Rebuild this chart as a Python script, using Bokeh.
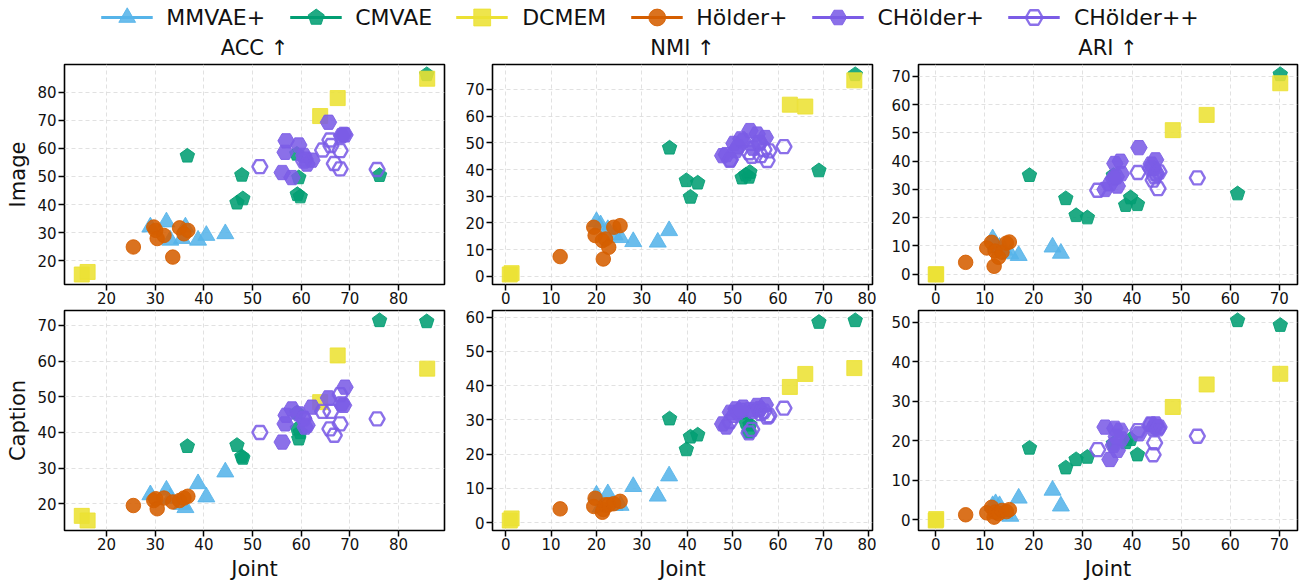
from bokeh.plotting import figure
from bokeh.layouts import column, row
from bokeh.models import Range1d, SingleIntervalTicker, Legend, LegendItem, ColumnDataSource
from bokeh.embed import file_html
from bokeh.resources import INLINE

# ---------------- data ----------------
models = ["MMVAE+", "CMVAE", "DCMEM", "Hölder+", "CHölder+", "CHölder++"]
metric_titles = ["ACC ↑", "NMI ↑", "ARI ↑"]
row_labels = ["Image", "Caption"]

# ACC
acc_mmvae_joint = [29.0, 32.3, 33.1, 35.5, 36.2, 38.8, 40.5, 44.4]
acc_mmvae_image = [32.0, 33.8, 27.3, 27.9, 32.0, 27.3, 29.0, 29.6]
acc_mmvae_caption = [22.5, 23.8, 21.5, 19.8, 18.9, 25.6, 21.9, 28.9]
acc_cmvae_joint = [36.6, 46.8, 47.8, 48.0, 59.1, 59.2, 59.5, 59.8, 76.1, 85.8]
acc_cmvae_image = [57.3, 40.6, 50.5, 42.1, 58.0, 43.6, 49.6, 42.8, 50.4, 86.3]
acc_cmvae_caption = [36.1, 36.4, 33.2, 32.8, 45.5, 41.0, 38.2, 40.0, 71.4, 71.1]
acc_dcmem_joint = [14.9, 16.1, 63.9, 67.5, 85.9]
acc_dcmem_image = [15.1, 16.0, 71.5, 77.9, 84.8]
acc_dcmem_caption = [16.6, 15.3, 48.5, 61.6, 57.9]
acc_holder_joint = [25.5, 29.7, 30.1, 30.4, 31.8, 33.6, 35.0, 35.9, 36.7]
acc_holder_image = [24.9, 32.0, 30.8, 27.9, 29.0, 21.3, 31.7, 29.6, 30.8]
acc_holder_caption = [19.5, 20.9, 21.4, 18.6, 21.6, 20.5, 20.9, 21.6, 22.1]
acc_chp_joint = [56.1, 56.7, 56.9, 58.1, 59.5, 60.5, 60.8, 61.2, 62.2, 65.6, 68.3, 68.7, 69.0]
acc_chp_image = [51.4, 58.6, 62.7, 49.6, 61.2, 57.5, 56.2, 54.4, 55.8, 69.3, 64.5, 65.0, 64.8]
acc_chp_caption = [37.3, 42.4, 44.8, 46.6, 45.2, 44.0, 41.5, 42.0, 47.1, 49.7, 48.0, 47.6, 52.7]
acc_chpp_joint = [51.5, 60.5, 64.4, 65.9, 66.1, 66.8, 68.0, 68.0, 75.6]
acc_chpp_image = [53.5, 55.5, 59.4, 63.0, 61.0, 54.6, 59.2, 52.7, 52.5]
acc_chpp_caption = [40.0, 43.8, 45.9, 41.0, 45.9, 39.2, 50.6, 42.4, 43.8]

# NMI
nmi_mmvae_joint = [20.0, 20.9, 22.5, 24.0, 25.3, 28.1, 33.5, 36.0]
nmi_mmvae_image = [20.5, 19.3, 17.5, 15.5, 14.5, 13.0, 12.8, 17.1]
nmi_mmvae_caption = [8.0, 4.5, 8.4, 5.0, 5.0, 10.5, 7.7, 13.6]
nmi_cmvae_joint = [36.1, 39.8, 40.7, 42.3, 52.1, 52.9, 53.6, 53.8, 69.0, 77.0]
nmi_cmvae_image = [48.1, 35.9, 29.7, 35.0, 36.9, 38.0, 37.2, 39.0, 39.6, 75.6]
nmi_cmvae_caption = [30.3, 21.3, 25.0, 25.6, 32.0, 29.3, 26.4, 28.5, 58.5, 59.0]
nmi_dcmem_joint = [0.9, 1.3, 62.6, 66.0, 76.8]
nmi_dcmem_image = [0.7, 1.2, 64.3, 63.6, 73.4]
nmi_dcmem_caption = [0.6, 1.2, 39.6, 43.4, 45.1]
nmi_holder_joint = [12.0, 19.4, 19.7, 21.3, 21.5, 22.0, 22.7, 23.8, 25.2]
nmi_holder_image = [7.4, 18.4, 15.3, 13.4, 6.5, 14.0, 10.9, 18.4, 19.0]
nmi_holder_caption = [4.0, 4.7, 7.1, 3.0, 3.8, 5.2, 5.2, 5.5, 6.2]
nmi_chp_joint = [47.8, 48.6, 49.5, 50.3, 50.7, 51.2, 52.3, 53.8, 54.5, 55.4, 56.0, 57.2, 51.8]
nmi_chp_image = [45.2, 45.6, 43.8, 49.8, 47.1, 48.5, 50.8, 54.6, 48.0, 53.3, 50.0, 52.0, 51.5]
nmi_chp_caption = [28.8, 27.9, 32.2, 31.3, 33.2, 32.2, 33.7, 33.0, 32.5, 34.2, 33.2, 34.4, 32.8]
nmi_chpp_joint = [49.4, 53.6, 54.2, 55.8, 56.2, 56.9, 57.6, 58.0, 61.3]
nmi_chpp_image = [43.5, 46.3, 45.0, 50.2, 45.2, 47.5, 43.4, 47.0, 48.6]
nmi_chpp_caption = [29.5, 26.2, 27.2, 33.0, 31.8, 32.5, 30.8, 31.2, 33.4]

# ARI
ari_mmvae_joint = [11.6, 12.2, 13.0, 14.0, 15.2, 16.9, 23.8, 25.5]
ari_mmvae_image = [12.5, 10.5, 9.5, 8.5, 7.2, 6.6, 9.6, 7.4]
ari_mmvae_caption = [3.5, 4.0, 3.5, 1.5, 0.8, 5.4, 7.4, 3.4]
ari_cmvae_joint = [19.1, 26.5, 28.6, 30.9, 36.2, 38.7, 39.7, 41.1, 61.5, 70.2]
ari_cmvae_image = [35.0, 26.8, 20.8, 20.0, 35.0, 24.4, 27.1, 24.7, 28.5, 70.7]
ari_cmvae_caption = [18.1, 13.1, 15.2, 15.8, 19.2, 19.5, 20.3, 16.4, 50.4, 49.2]
ari_dcmem_joint = [0.0, 0.1, 48.3, 55.2, 70.2]
ari_dcmem_image = [-0.1, 0.0, 51.0, 56.4, 67.6]
ari_dcmem_caption = [-0.25, 0.1, 28.5, 34.2, 36.9]
ari_holder_joint = [6.1, 10.4, 11.4, 11.9, 12.1, 12.8, 13.5, 14.4, 15.0]
ari_holder_image = [4.2, 9.3, 11.3, 2.8, 8.2, 6.0, 7.8, 11.0, 11.4]
ari_holder_caption = [1.2, 1.7, 3.1, 0.6, 1.9, 1.5, 2.3, 2.0, 2.5]
ari_chp_joint = [34.5, 35.5, 36.2, 36.5, 37.0, 37.6, 37.8, 41.4, 43.9, 44.3, 44.8, 45.0, 36.8]
ari_chp_image = [30.0, 32.0, 33.9, 39.2, 31.2, 40.0, 35.6, 44.8, 39.0, 37.4, 40.5, 35.6, 34.5]
ari_chp_caption = [23.4, 15.2, 18.8, 23.1, 17.5, 22.6, 20.4, 21.7, 24.0, 23.0, 24.2, 23.4, 21.0]
ari_chpp_joint = [33.0, 41.2, 43.8, 44.3, 44.6, 44.8, 45.3, 45.5, 53.3]
ari_chpp_image = [29.7, 36.0, 37.5, 33.3, 34.5, 35.5, 30.3, 36.2, 34.1]
ari_chpp_caption = [17.7, 22.5, 24.2, 16.4, 19.4, 23.6, 23.0, 23.4, 21.1]

# ---------------- assembly ----------------
metrics = [
    [(acc_mmvae_joint, acc_mmvae_image, acc_mmvae_caption),
     (acc_cmvae_joint, acc_cmvae_image, acc_cmvae_caption),
     (acc_dcmem_joint, acc_dcmem_image, acc_dcmem_caption),
     (acc_holder_joint, acc_holder_image, acc_holder_caption),
     (acc_chp_joint, acc_chp_image, acc_chp_caption),
     (acc_chpp_joint, acc_chpp_image, acc_chpp_caption)],
    [(nmi_mmvae_joint, nmi_mmvae_image, nmi_mmvae_caption),
     (nmi_cmvae_joint, nmi_cmvae_image, nmi_cmvae_caption),
     (nmi_dcmem_joint, nmi_dcmem_image, nmi_dcmem_caption),
     (nmi_holder_joint, nmi_holder_image, nmi_holder_caption),
     (nmi_chp_joint, nmi_chp_image, nmi_chp_caption),
     (nmi_chpp_joint, nmi_chpp_image, nmi_chpp_caption)],
    [(ari_mmvae_joint, ari_mmvae_image, ari_mmvae_caption),
     (ari_cmvae_joint, ari_cmvae_image, ari_cmvae_caption),
     (ari_dcmem_joint, ari_dcmem_image, ari_dcmem_caption),
     (ari_holder_joint, ari_holder_image, ari_holder_caption),
     (ari_chp_joint, ari_chp_image, ari_chp_caption),
     (ari_chpp_joint, ari_chpp_image, ari_chpp_caption)],
]

FONT = "DejaVu Sans"
TEXT = "#111111"
PURPLE = "#7B5CE6"
COLORS = ["#56B4E9", "#029E73", "#ECE133", "#D55E00", PURPLE, PURPLE]
ALPHA = 0.88


def padded(vals):
    lo, hi = min(vals), max(vals)
    d = hi - lo
    return Range1d(lo - 0.05 * d, hi + 0.05 * d)


def draw_marker(p, k, src):
    c = COLORS[k]
    if k == 0:
        return p.scatter("x", "y", source=src, marker="triangle", size=17,
                         fill_color=c, line_color=c, fill_alpha=ALPHA, line_alpha=ALPHA)
    if k == 1:
        return p.ngon("x", "y", source=src, radius=7.6, radius_units="screen", n=5,
                      angle=0.0, fill_color=c, line_color=c, fill_alpha=ALPHA, line_alpha=ALPHA)
    if k == 2:
        return p.scatter("x", "y", source=src, marker="square", size=15,
                         fill_color=c, line_color=c, fill_alpha=ALPHA, line_alpha=ALPHA)
    if k == 3:
        return p.scatter("x", "y", source=src, marker="circle", size=14.5,
                         fill_color=c, line_color=c, fill_alpha=ALPHA, line_alpha=ALPHA)
    if k == 4:
        return p.scatter("x", "y", source=src, marker="hex", size=16.5,
                         fill_color=c, line_color=c, fill_alpha=ALPHA, line_alpha=ALPHA)
    return p.scatter("x", "y", source=src, marker="hex", size=15,
                     fill_color=None, line_color=c, line_width=2.4, line_alpha=ALPHA)


FRAME_W = [380, 380, 379]
BORDER_L = [64, 44, 42]
BORDER_R = [4, 4, 2]

rows = []
for r in range(2):
    figs = []
    for m in range(3):
        data = metrics[m]
        xs = sum([d[0] for d in data], [])
        ys = sum([d[1 + r] for d in data], [])
        p = figure(frame_width=FRAME_W[m], frame_height=220,
                   x_range=padded(xs), y_range=padded(ys),
                   output_backend="svg", toolbar_location=None,
                   min_border_left=BORDER_L[m], min_border_right=BORDER_R[m],
                   min_border_top=36 if r == 0 else 2,
                   min_border_bottom=24 if r == 0 else 48)
        p.background_fill_color = "white"
        p.border_fill_color = "white"
        p.outline_line_color = "black"
        p.outline_line_width = 1.6
        p.outline_line_alpha = 1.0
        for ax in (p.xaxis[0], p.yaxis[0]):
            ax.ticker = SingleIntervalTicker(interval=10, num_minor_ticks=0)
            ax.axis_line_color = None
            ax.major_tick_out = 6
            ax.major_tick_in = 0
            ax.minor_tick_out = 0
            ax.minor_tick_in = 0
            ax.major_tick_line_width = 1.5
            ax.major_tick_line_color = "black"
            ax.major_label_text_font = FONT
            ax.major_label_text_font_size = "15px"
            ax.major_label_text_color = TEXT
            ax.axis_label_text_font = FONT
            ax.axis_label_text_font_style = "normal"
            ax.axis_label_text_font_size = "21px"
            ax.axis_label_text_color = TEXT
        p.xaxis.major_label_standoff = 1
        p.yaxis.major_label_standoff = 2
        if r == 1:
            p.xaxis.axis_label = "Joint"
            p.xaxis.axis_label_standoff = 4
        if m == 0:
            p.yaxis.axis_label = row_labels[r]
            p.yaxis.axis_label_standoff = 4
        for g in (p.xgrid[0], p.ygrid[0]):
            g.grid_line_color = "#d9d9d9"
            g.grid_line_dash = "4 3"
            g.grid_line_width = 1
            g.grid_line_alpha = 0.8
        if r == 0:
            p.title.text = metric_titles[m]
            p.title.align = "center"
            p.title.text_font = FONT
            p.title.text_font_style = "normal"
            p.title.text_font_size = "21px"
            p.title.text_color = TEXT
            p.title.standoff = 10
        for k, d in enumerate(data):
            src = ColumnDataSource(dict(x=d[0], y=d[1 + r]))
            draw_marker(p, k, src)
        figs.append(p)
    rows.append(row(*figs))

# ---------------- legend ----------------
# legend renderers hold the ACC series but sit outside this strip's visible range
leg = figure(width=1299, height=28, output_backend="svg", toolbar_location=None,
             x_range=Range1d(1000, 1001), y_range=Range1d(1000, 1001),
             x_axis_location=None, y_axis_location=None, min_border=0)
leg.grid.visible = False
leg.outline_line_color = None
items = []
for k, name in enumerate(models):
    src = ColumnDataSource(dict(x=metrics[0][k][0], y=metrics[0][k][1]))
    lr = leg.line("x", "y", source=src, line_color=COLORS[k], line_width=3)
    mr = draw_marker(leg, k, src)
    items.append(LegendItem(label=name, renderers=[lr, mr]))
legend = Legend(items=items, orientation="horizontal", location="top_center",
                glyph_width=52, glyph_height=42, label_standoff=14, spacing=24,
                padding=0, margin=-4, border_line_color=None, background_fill_alpha=0,
                label_text_font=FONT, label_text_font_size="22px", label_height=20,
                label_text_color=TEXT)
leg.add_layout(legend, "center")

layout = column(leg, rows[0], rows[1])
open("out.html", "w").write(file_html(layout, INLINE))
